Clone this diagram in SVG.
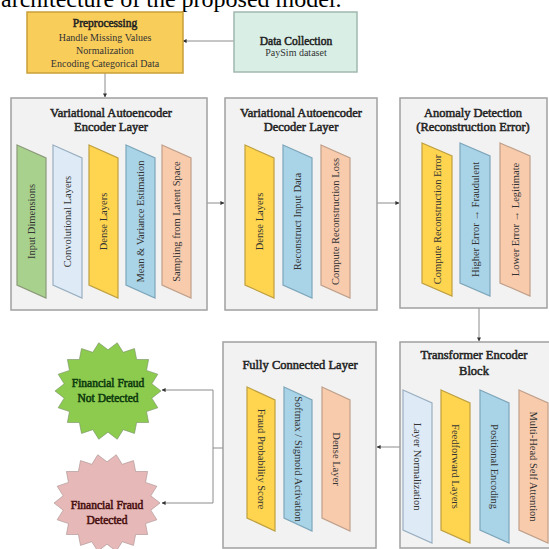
<svg xmlns="http://www.w3.org/2000/svg" width="549" height="549" viewBox="0 0 549 549">
<style>
.bg{fill:#FFFFFF}
.box{fill:#F2F2F2;stroke:#A0A0A0;stroke-width:1.5}
.g{fill:#A9D18E;stroke:#8A9A78;stroke-width:1.2}
.lb{fill:#DEEBF7;stroke:#9AAFC0;stroke-width:1.2}
.y{fill:#FFD54F;stroke:#BFA040;stroke-width:1.2}
.b{fill:#A9D4E8;stroke:#7EA6BA;stroke-width:1.2}
.o{fill:#F8CBAD;stroke:#C0A08A;stroke-width:1.2}
.title{font-family:"Liberation Serif","Times New Roman",serif;font-weight:normal;font-size:12.5px;text-anchor:middle;fill:#222;stroke:#222;stroke-width:0.5}
.title2{font-family:"Liberation Serif","Times New Roman",serif;font-weight:normal;font-size:11.5px;text-anchor:middle;fill:#222;stroke:#222;stroke-width:0.5}
.lbl{font-family:"Liberation Serif","Times New Roman",serif;font-size:10.5px;text-anchor:middle;fill:#333}
.sub{font-family:"Liberation Serif","Times New Roman",serif;font-size:10px;text-anchor:middle;fill:#333}
.conn{stroke:#8C8C8C;stroke-width:1;fill:none;marker-end:url(#ah)}
.star{stroke-width:1.2;vector-effect:non-scaling-stroke}
.st{font-family:"Liberation Serif","Times New Roman",serif;font-weight:normal;font-size:11.5px;text-anchor:middle;stroke-width:0.55}
.cap{font-family:"Liberation Serif","Times New Roman",serif;font-size:24px;fill:#000}
</style>
<defs>
<marker id="ah" viewBox="0 0 10 10" refX="9" refY="5" markerWidth="4" markerHeight="4" markerUnits="userSpaceOnUse" orient="auto">
<path d="M0,0 L10,5 L0,10 z" fill="#333"/>
</marker>
<polygon id="starshape" points="100,0 82.7,14.6 94,34.2 72.7,42 76.6,64.3 54,64.3 50,86.6 28.7,78.9 17.4,98.5 0,84 -17.4,98.5 -28.7,78.9 -50,86.6 -54,64.3 -76.6,64.3 -72.7,42 -94,34.2 -82.7,14.6 -100,0 -82.7,-14.6 -94,-34.2 -72.7,-42 -76.6,-64.3 -54,-64.3 -50,-86.6 -28.7,-78.9 -17.4,-98.5 0,-84 17.4,-98.5 28.7,-78.9 50,-86.6 54,-64.3 76.6,-64.3 72.7,-42 94,-34.2 82.7,-14.6"/>
</defs>
<rect class="bg" x="0" y="0" width="549" height="549"/>
<text class="cap" x="1" y="7">architecture of the proposed model.</text>

<g id="connectors">
<path class="conn" d="M234,41 H183"/>
<path class="conn" d="M105,73 V97"/>
<path class="conn" d="M104,139 V143"/>
<path class="conn" d="M207,203 H224"/>
<path class="conn" d="M377,203 H399"/>
<path class="conn" d="M479,308 V341"/>
<path class="conn" d="M400,447 H377"/>
<path class="conn" d="M223,448 H213 V390 H162"/>
<path class="conn" d="M213,448 V503 H162"/>
<path class="conn" d="M53,228 H47"/>
<path class="conn" d="M89,228 H83"/>
<path class="conn" d="M126,228 H119"/>
<path class="conn" d="M162,228 H156"/>
<path class="conn" d="M283,228 H275"/>
<path class="conn" d="M321,228 H313"/>
<path class="conn" d="M460,229 H453"/>
<path class="conn" d="M500,229 H491"/>
<path class="conn" d="M441,457 H433"/>
<path class="conn" d="M480,457 H471"/>
<path class="conn" d="M519,457 H510"/>
<path class="conn" d="M284,457 H276"/>
<path class="conn" d="M322,457 H313"/>
</g>

<g id="preprocessing">
<rect x="27" y="12" width="156" height="61" fill="#F9CD5A" stroke="#C9A03A" stroke-width="1.5"/>
<text class="title2" x="105" y="27">Preprocessing</text>
<text class="sub" x="105" y="41">Handle Missing Values</text>
<text class="sub" x="105" y="54">Normalization</text>
<text class="sub" x="105" y="67">Encoding Categorical Data</text>
</g>

<g id="data-collection">
<rect x="234" y="12" width="123" height="60" fill="#D9EFE6" stroke="#A0B8AE" stroke-width="1.5"/>
<text class="title2" x="296" y="45">Data Collection</text>
<text class="sub" x="296" y="56" font-size="9">PaySim dataset</text>
</g>

<g id="vae-encoder">
<rect class="box" x="11" y="98" width="196" height="212"/>
<text class="title" x="111" y="117">Variational Autoencoder</text>
<text class="title" x="111" y="131">Encoder Layer</text>
<polygon class="g" points="17,145 46,158 46,298 17,285"/>
<text class="lbl" transform="translate(31.5,221.5) rotate(-90)" y="3.5">Input Dimensions</text>
<polygon class="lb" points="53,145 82,158 82,298 53,285"/>
<text class="lbl" transform="translate(67.5,221.5) rotate(-90)" y="3.5">Convolutional Layers</text>
<polygon class="y" points="89,145 118,158 118,298 89,285"/>
<text class="lbl" transform="translate(103.5,221.5) rotate(-90)" y="3.5">Dense Layers</text>
<polygon class="b" points="126,145 155,158 155,298 126,285"/>
<text class="lbl" transform="translate(140.5,221.5) rotate(-90)" y="3.5">Mean &amp; Variance Estimation</text>
<polygon class="o" points="162,145 191,158 191,298 162,285"/>
<text class="lbl" transform="translate(176.5,221.5) rotate(-90)" y="3.5">Sampling from Latent Space</text>
</g>

<g id="vae-decoder">
<rect class="box" x="225" y="98" width="152" height="212"/>
<text class="title" x="301" y="117">Variational Autoencoder</text>
<text class="title" x="301" y="131">Decoder Layer</text>
<polygon class="y" points="245,145 274,158 274,298 245,285"/>
<text class="lbl" transform="translate(259.5,221.5) rotate(-90)" y="3.5">Dense Layers</text>
<polygon class="b" points="283,145 312,158 312,298 283,285"/>
<text class="lbl" transform="translate(297.5,221.5) rotate(-90)" y="3.5">Reconstruct Input Data</text>
<polygon class="o" points="321,145 350,158 350,298 321,285"/>
<text class="lbl" transform="translate(335.5,221.5) rotate(-90)" y="3.5">Compute Reconstruction Loss</text>
</g>

<g id="anomaly-detection">
<rect class="box" x="400" y="98" width="147" height="210"/>
<text class="title" x="473" y="117">Anomaly Detection</text>
<text class="title" x="473" y="131">(Reconstruction Error)</text>
<polygon class="y" points="422,143 452,156 452,296 422,283"/>
<text class="lbl" transform="translate(437,219.5) rotate(-90)" y="3.5">Compute Reconstruction Error</text>
<polygon class="b" points="460,143 490,156 490,296 460,283"/>
<text class="lbl" transform="translate(475,219.5) rotate(-90)" y="3.5">Higher Error → Fraudulent</text>
<polygon class="o" points="500,143 530,156 530,296 500,283"/>
<text class="lbl" transform="translate(515,219.5) rotate(-90)" y="3.5">Lower Error → Legitimate</text>
</g>

<g id="transformer-encoder">
<rect class="box" x="400" y="342" width="150" height="206"/>
<text class="title" x="474" y="359">Transformer Encoder</text>
<text class="title" x="474" y="375">Block</text>
<polygon class="lb" points="403,390 432,403 432,543 403,530"/>
<text class="lbl" transform="translate(417.5,466.5) rotate(90)" y="3.5">Layer Normalization</text>
<polygon class="y" points="441,390 470,403 470,543 441,530"/>
<text class="lbl" transform="translate(455.5,466.5) rotate(90)" y="3.5">Feedforward Layers</text>
<polygon class="b" points="480,390 509,403 509,543 480,530"/>
<text class="lbl" transform="translate(494.5,466.5) rotate(90)" y="3.5">Positional Encoding</text>
<polygon class="o" points="519,390 548,403 548,543 519,530"/>
<text class="lbl" transform="translate(533.5,466.5) rotate(90)" y="3.5">Multi-Head Self Attention</text>
</g>

<g id="fully-connected">
<rect class="box" x="223" y="342" width="153" height="206"/>
<text class="title" x="300" y="369">Fully Connected Layer</text>
<polygon class="y" points="247,387 275,400 275,531 247,518"/>
<text class="lbl" transform="translate(261,459) rotate(90)" y="3.5">Fraud Probability Score</text>
<polygon class="b" points="284,387 312,400 312,531 284,518"/>
<text class="lbl" transform="translate(298,459) rotate(90)" y="3.5">Softmax / Sigmoid Activation</text>
<polygon class="o" points="322,387 350,400 350,531 322,518"/>
<text class="lbl" transform="translate(336,459) rotate(90)" y="3.5">Dense Layer</text>
</g>

<g id="fraud-not-detected">
<use href="#starshape" class="star" transform="translate(108,391) scale(0.53,0.49)" fill="#8CCB4E" stroke="#7A8F6A"/>
<text class="st" x="108" y="387" fill="#0E3A0E" stroke="#0E3A0E">Financial Fraud</text>
<text class="st" x="108" y="402" fill="#0E3A0E" stroke="#0E3A0E">Not Detected</text>
</g>

<g id="fraud-detected">
<use href="#starshape" class="star" transform="translate(107,503) scale(0.53,0.49)" fill="#E6B9B8" stroke="#A89090"/>
<text class="st" x="107" y="509" fill="#4A1010" stroke="#4A1010">Financial Fraud</text>
<text class="st" x="107" y="524" fill="#4A1010" stroke="#4A1010">Detected</text>
</g>
</svg>
